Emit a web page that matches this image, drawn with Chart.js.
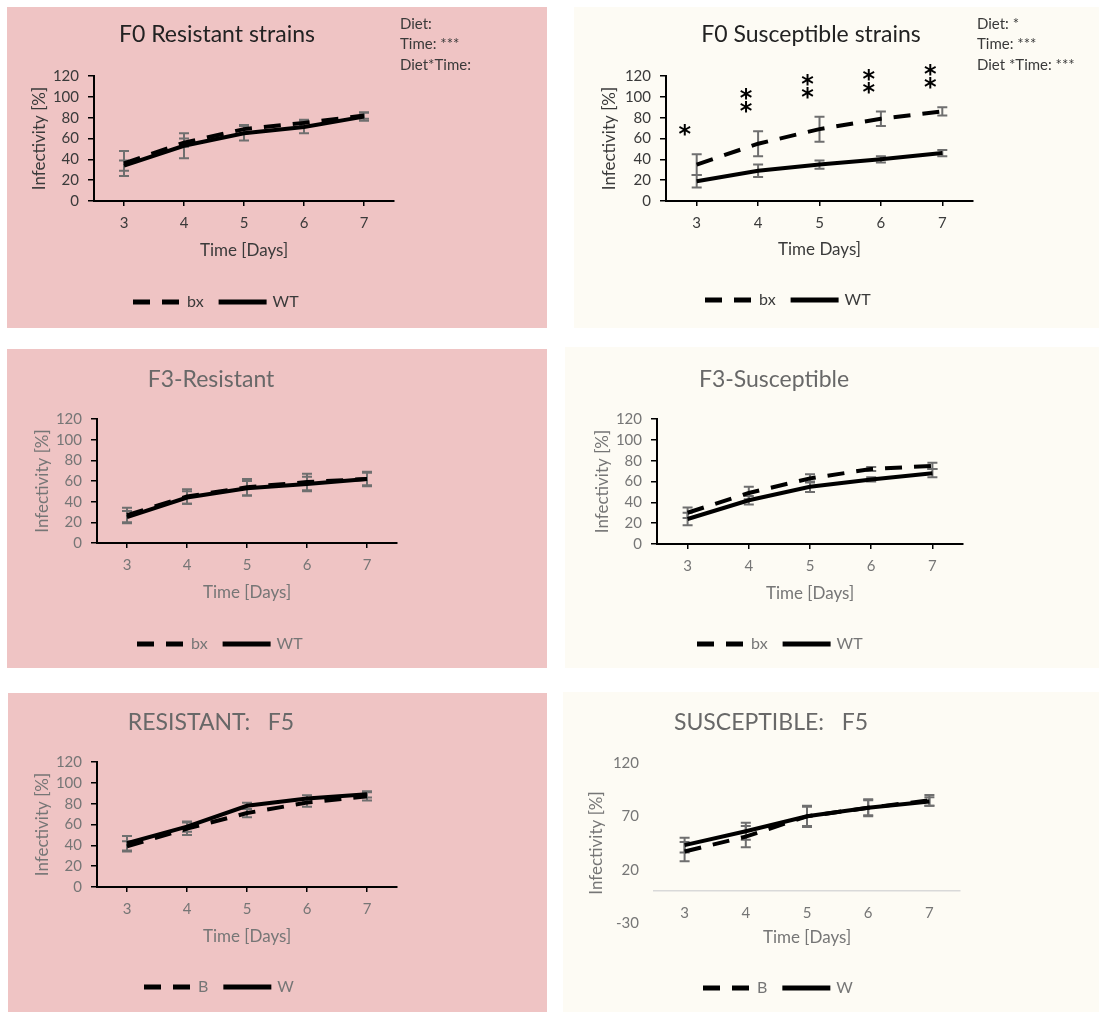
<!DOCTYPE html>
<html>
<head>
<meta charset="utf-8">
<script src="https://cdn.jsdelivr.net/npm/chart.js@4.4.0/dist/chart.umd.min.js"></script>
<style>
  body { margin: 0; background: #fff; width: 1099px; height: 1012px; position: relative; overflow: hidden; }
  .panel { position: absolute; }
  .panel canvas { position: absolute; left: 0; top: 0; }
</style>
</head>
<body>
<div class="panel" id="p1"><canvas></canvas></div>
<div class="panel" id="p2"><canvas></canvas></div>
<div class="panel" id="p3"><canvas></canvas></div>
<div class="panel" id="p4"><canvas></canvas></div>
<div class="panel" id="p5"><canvas></canvas></div>
<div class="panel" id="p6"><canvas></canvas></div>
<script>
const days = ['3', '4', '5', '6', '7'];

// F0
const f0ResBx = [36, 56, 69, 75, 82];
const f0ResBxErr = [12, 4, 4, 3, 3];
const f0ResWt = [34, 53, 65, 71, 81];
const f0ResWtErr = [5, 12, 7, 6, 4];
const f0SusBx = [35, 55, 69, 79, 86];
const f0SusBxErr = [10, 12, 12, 7, 4];
const f0SusWt = [19, 29, 35, 40, 46];
const f0SusWtErr = [6, 6, 4, 3, 3];
const f0ResNotes = ['Diet:', 'Time: ***', 'Diet*Time:'];
const f0SusNotes = ['Diet: *', 'Time: ***', 'Diet *Time: ***'];
const f0SusStars = ['*', '**', '**', '**', '**'];

// F3
const f3ResBx = [27, 45, 54, 59, 62];
const f3ResBxErr = [7, 7, 8, 8, 7];
const f3ResWt = [25, 44, 53, 57, 62];
const f3ResWtErr = [6, 6, 7, 7, 6];
const f3SusBx = [30, 49, 63, 72, 75];
const f3SusBxErr = [5, 6, 4, 2, 3];
const f3SusWt = [24, 42, 55, 62, 68];
const f3SusWtErr = [6, 4, 5, 2, 4];

// F5
const f5ResB = [39, 56, 71, 81, 87];
const f5ResBErr = [5, 6, 4, 4, 4];
const f5ResW = [42, 58, 78, 85, 89];
const f5ResWErr = [7, 5, 3, 3, 3];
const f5SusB = [37, 51, 70, 78, 85];
const f5SusBErr = [9, 10, 10, 7, 5];
const f5SusW = [43, 56, 70, 78, 84];
const f5SusWErr = [7, 8, 9, 8, 4];

const PINK = '#efc4c4';
const CREAM = '#fdfbf4';
const FONT = 'Lato, "Open Sans", sans-serif';
const DASH = [17, 12];

Chart.defaults.font.family = FONT;

// error bars under the lines, then titles, notes, legend and significance stars on top
const panelDecor = {
  id: 'panelDecor',
  beforeDatasetsDraw(chart) {
    const { ctx, scales: { x, y } } = chart;
    ctx.save();
    ctx.strokeStyle = '#6f6f6f';
    ctx.lineWidth = 2;
    chart.data.datasets.forEach(ds => {
      ds.data.forEach((v, i) => {
        const e = ds.errors[i];
        const px = x.getPixelForValue(i);
        const top = y.getPixelForValue(v + e);
        const bot = y.getPixelForValue(v - e);
        ctx.beginPath();
        ctx.moveTo(px, top); ctx.lineTo(px, bot);
        ctx.moveTo(px - 5, top); ctx.lineTo(px + 5, top);
        ctx.moveTo(px - 5, bot); ctx.lineTo(px + 5, bot);
        ctx.stroke();
      });
    });
    ctx.restore();
  },
  afterDraw(chart, args, opts) {
    const { ctx, scales: { x, y } } = chart;
    ctx.save();
    ctx.textBaseline = 'middle';

    ctx.fillStyle = opts.titleColor;
    ctx.font = '23px ' + FONT;
    ctx.textAlign = 'center';
    ctx.fillText(opts.title, opts.titleAt.x, opts.titleAt.y);

    if (opts.notes) {
      ctx.font = '15px ' + FONT;
      ctx.textAlign = 'left';
      ctx.fillStyle = opts.noteColor;
      opts.notes.forEach((t, i) => ctx.fillText(t, opts.notesAt.x, opts.notesAt.y + i * 20.5));
    }

    // legend: line sample + label for each series
    let lx = opts.legendAt.x;
    const ly = opts.legendAt.y;
    ctx.font = '16px ' + FONT;
    ctx.textAlign = 'left';
    chart.data.datasets.forEach(ds => {
      ctx.strokeStyle = '#000';
      ctx.lineWidth = 5;
      ctx.setLineDash(ds.borderDash || []);
      ctx.beginPath();
      ctx.moveTo(lx, ly);
      ctx.lineTo(lx + 48, ly);
      ctx.stroke();
      ctx.setLineDash([]);
      ctx.fillStyle = opts.textColor;
      ctx.fillText(ds.label, lx + 54, ly);
      lx += 54 + ctx.measureText(ds.label).width + 15;
    });

    if (opts.stars) {
      const ds = chart.data.datasets[0];
      ctx.fillStyle = '#000';
      ctx.font = 'bold 24px "DejaVu Sans"';
      ctx.textAlign = 'center';
      opts.stars.forEach((s, i) => {
        const px = x.getPixelForValue(i) - 12;
        const base = y.getPixelForValue(ds.data[i] + ds.errors[i]) - 24;
        for (let k = 0; k < s.length; k++) {
          ctx.fillText('*', px, base - k * 13 + 6);
        }
      });
    }
    ctx.restore();
  }
};

const panels = [
  {
    id: 'p1', left: 7, top: 7, width: 540, height: 321, bg: PINK, dark: true,
    area: [87, 69, 387, 194], yMin: 0, yStep: 20, yPad: 23, xPad: 0,
    title: 'F0 Resistant strains', titleAt: { x: 210, y: 28 }, xTitle: 'Time [Days]',
    notes: f0ResNotes, notesAt: { x: 393, y: 17 }, legendAt: { x: 126, y: 295 },
    series: [
      { label: 'bx', values: f0ResBx, errors: f0ResBxErr },
      { label: 'WT', values: f0ResWt, errors: f0ResWtErr }
    ]
  },
  {
    id: 'p2', left: 574, top: 7, width: 525, height: 321, bg: CREAM, dark: true,
    area: [92, 69, 399, 194], yMin: 0, yStep: 20, yPad: 26, xPad: 1,
    title: 'F0 Susceptible strains', titleAt: { x: 237, y: 28 }, xTitle: 'Time Days]',
    notes: f0SusNotes, notesAt: { x: 403, y: 17 }, legendAt: { x: 131, y: 293 },
    stars: f0SusStars,
    series: [
      { label: 'bx', values: f0SusBx, errors: f0SusBxErr },
      { label: 'WT', values: f0SusWt, errors: f0SusWtErr }
    ]
  },
  {
    id: 'p3', left: 7, top: 349, width: 540, height: 319, bg: PINK,
    area: [90, 70, 390, 194], yMin: 0, yStep: 20, yPad: 26, xPad: 0,
    title: 'F3-Resistant', titleAt: { x: 204, y: 31 }, xTitle: 'Time [Days]',
    legendAt: { x: 130, y: 295 },
    series: [
      { label: 'bx', values: f3ResBx, errors: f3ResBxErr },
      { label: 'WT', values: f3ResWt, errors: f3ResWtErr }
    ]
  },
  {
    id: 'p4', left: 565, top: 347, width: 534, height: 321, bg: CREAM,
    area: [92, 72, 398, 197], yMin: 0, yStep: 20, yPad: 28, xPad: 0,
    title: 'F3-Susceptible', titleAt: { x: 209, y: 33 }, xTitle: 'Time [Days]',
    legendAt: { x: 132, y: 297 },
    series: [
      { label: 'bx', values: f3SusBx, errors: f3SusBxErr },
      { label: 'WT', values: f3SusWt, errors: f3SusWtErr }
    ]
  },
  {
    id: 'p5', left: 8, top: 693, width: 539, height: 319, bg: PINK,
    area: [89, 69, 389, 194], yMin: 0, yStep: 20, yPad: 25, xPad: 0,
    title: 'RESISTANT:   F5', titleAt: { x: 203, y: 30 }, xTitle: 'Time [Days]',
    legendAt: { x: 136, y: 294 },
    series: [
      { label: 'B', values: f5ResB, errors: f5ResBErr },
      { label: 'W', values: f5ResW, errors: f5ResWErr }
    ]
  },
  {
    id: 'p6', left: 563, top: 692, width: 536, height: 320, bg: CREAM, zeroAxis: true,
    area: [91, 71, 397, 231], yMin: -30, yStep: 50, yPad: 24, xPad: 3,
    title: 'SUSCEPTIBLE:   F5', titleAt: { x: 208, y: 31 }, xTitle: 'Time [Days]',
    legendAt: { x: 140, y: 296 },
    series: [
      { label: 'B', values: f5SusB, errors: f5SusBErr },
      { label: 'W', values: f5SusW, errors: f5SusWErr }
    ]
  }
];

const X_AXIS_H = 60;

function makePanel(p) {
  const box = document.getElementById(p.id);
  Object.assign(box.style, {
    left: p.left + 'px', top: p.top + 'px',
    width: p.width + 'px', height: p.height + 'px', background: p.bg
  });
  const canvas = box.querySelector('canvas');
  canvas.width = p.width;
  canvas.height = p.height;

  const [l, t, r, b] = p.area;
  const textColor = p.dark ? '#3a3a3a' : '#767676';
  const titleColor = p.dark ? '#222222' : '#686868';

  return new Chart(canvas, {
    type: 'line',
    data: {
      labels: days,
      datasets: p.series.map((s, i) => ({
        label: s.label,
        data: s.values,
        errors: s.errors,
        borderColor: '#000',
        borderWidth: 4,
        borderDash: i === 0 ? DASH : [],
        order: i === 0 ? 1 : 0,
        pointRadius: 0,
        tension: 0,
        fill: false
      }))
    },
    options: {
      responsive: false,
      animation: false,
      layout: {
        padding: {
          left: 0,
          top: t,
          right: p.width - r,
          bottom: p.zeroAxis ? p.height - b : p.height - b - X_AXIS_H
        }
      },
      plugins: {
        legend: { display: false },
        tooltip: { enabled: false },
        panelDecor: {
          title: p.title, titleAt: p.titleAt, titleColor,
          notes: p.notes, notesAt: p.notesAt, noteColor: '#3a3a3a',
          legendAt: p.legendAt, textColor, stars: p.stars
        }
      },
      scales: {
        x: {
          offset: true,
          position: p.zeroAxis ? { y: 0 } : 'bottom',
          afterFit: s => { s.height = X_AXIS_H; },
          grid: { drawOnChartArea: false, drawTicks: !p.zeroAxis, tickLength: 5, color: '#000', lineWidth: 1.5 },
          border: { display: true, color: p.zeroAxis ? '#d9d9d9' : '#000', width: p.zeroAxis ? 1.5 : 2 },
          ticks: { color: textColor, font: { size: 15 }, padding: p.zeroAxis ? 13 : 8, maxRotation: 0, autoSkip: false },
          title: { display: true, text: p.xTitle, color: textColor, font: { size: 17 }, padding: { top: 0, bottom: p.xPad } }
        },
        y: {
          min: p.yMin,
          max: 120,
          afterFit: s => { s.width = l; },
          grid: { drawOnChartArea: false, drawTicks: !p.zeroAxis, tickLength: 6, color: '#000', lineWidth: 1.5 },
          border: { display: !p.zeroAxis, color: '#000', width: 2 },
          ticks: { stepSize: p.yStep, color: textColor, font: { size: 15 }, padding: p.zeroAxis ? 15 : 9, autoSkip: false },
          title: { display: true, text: 'Infectivity [%]', color: textColor, font: { size: 17 }, padding: { top: p.yPad - 1, bottom: 0 } }
        }
      }
    },
    plugins: [panelDecor]
  });
}

panels.forEach(makePanel);
</script>
</body>
</html>
